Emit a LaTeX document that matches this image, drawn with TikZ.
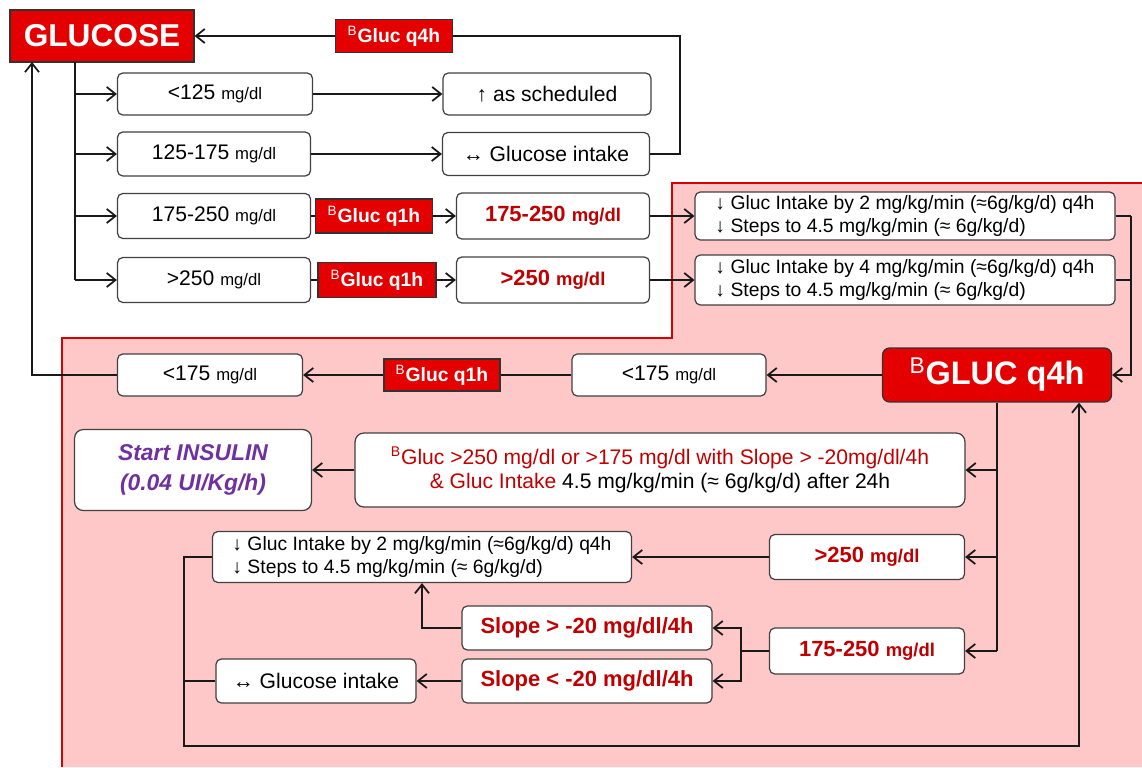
\documentclass[tikz,border=0pt]{standalone}
\usepackage{fontspec}
\setmainfont{Liberation Sans}
\usetikzlibrary{positioning}
\usetikzlibrary{calc}
\usetikzlibrary{arrows.meta}
\definecolor{glured}{RGB}{228,0,0}
\definecolor{txtred}{RGB}{192,0,0}
\definecolor{zonepink}{RGB}{255,200,200}
\definecolor{zonered}{RGB}{214,0,0}
\definecolor{insulinpurple}{RGB}{112,48,160}
\newcommand{\bsup}{\textsuperscript{\mdseries B}}
\newcommand{\mgdl}{{\fontsize{9.5}{11}\selectfont mg/dl}}
\newcommand{\boldmgdl}{{\fontsize{10.5}{12}\selectfont mg/dl}}

\tikzset{
    box/.style={draw=black!75, fill=white, rounded corners=3pt, line width=0.7pt, inner sep=0pt, align=center, font=\fontsize{12}{14}\selectfont},
    redbox/.style={draw=black!80, fill=glured, line width=0.7pt, inner sep=0pt, text=white, font=\fontsize{11}{13}\selectfont\bfseries},
    notebox/.style={box, align=left, font=\fontsize{11}{13.5}\selectfont},
    hotbox/.style={box, text=txtred, font=\fontsize{12.5}{14}\selectfont\bfseries},
    wire/.style={line width=1pt, draw=black!90},
    link/.style={wire, -{Straight Barb[length=5pt,width=8pt]}},
}

\begin{document}
\begin{tikzpicture}[x=0.02cm, y=-0.02cm]
    \useasboundingbox (0,0) rectangle (1142,767);

    % pink zone
    \fill[zonepink] (62,338) -- (672,338) -- (672,183) -- (1142,183) -- (1142,767) -- (62,767) -- cycle;
    \draw[zonered, line width=1.6pt] (62,767) -- (62,338) -- (672,338) -- (672,183) -- (1142,183);

    % upper part
    \node[redbox, minimum width=3.68cm, minimum height=1.04cm, font=\fontsize{18}{20}\selectfont\bfseries] (glucose) at (102,36) {GLUCOSE};
    \node[redbox, minimum width=2.34cm, minimum height=0.66cm] (q4top) at (394,36) {\bsup Gluc q4h};

    \node[box, minimum width=3.9cm, minimum height=0.84cm] (lo125) at (215,94) {<125 \mgdl};
    \node[box, minimum width=3.86cm, minimum height=0.88cm] (r125) at (214,154) {125-175 \mgdl};
    \node[box, minimum width=3.86cm, minimum height=0.9cm] (r175) at (214,216) {175-250 \mgdl};
    \node[box, minimum width=3.86cm, minimum height=0.9cm] (hi250) at (214,280) {>250 \mgdl};

    \node[box, minimum width=4.16cm, minimum height=0.84cm] (sched) at (547,94) {↑ as scheduled};
    \node[box, minimum width=4.14cm, minimum height=0.86cm] (keep) at (546,154) {↔ Glucose intake};

    \node[redbox, minimum width=2.34cm, minimum height=0.68cm] (q1a) at (374,216) {\bsup Gluc q1h};
    \node[redbox, minimum width=2.36cm, minimum height=0.7cm] (q1b) at (377,280) {\bsup Gluc q1h};

    \node[hotbox, minimum width=3.86cm, minimum height=0.92cm] (m175) at (553,216) {175-250 \boldmgdl};
    \node[hotbox, minimum width=3.86cm, minimum height=0.92cm] (m250) at (553,280) {>250 \boldmgdl};

    \node[notebox, minimum width=8.4cm, minimum height=0.96cm] (dec2) at (905,216) {↓ Gluc Intake by 2 mg/kg/min (≈6g/kg/d) q4h\\↓ Steps to 4.5 mg/kg/min (≈ 6g/kg/d)};
    \node[notebox, minimum width=8.4cm, minimum height=1.0cm] (dec4) at (905,280) {↓ Gluc Intake by 4 mg/kg/min (≈6g/kg/d) q4h\\↓ Steps to 4.5 mg/kg/min (≈ 6g/kg/d)};

    % lower part
    \node[redbox, rounded corners=4pt, minimum width=4.58cm, minimum height=1.08cm, font=\fontsize{18.5}{21}\selectfont\bfseries] (gluc4) at (997,375) {\bsup GLUC q4h};
    \node[box, minimum width=3.88cm, minimum height=0.84cm] (lo175b) at (669,375) {<175 \mgdl};
    \node[redbox, minimum width=2.32cm, minimum height=0.64cm] (q1c) at (442,375) {\bsup Gluc q1h};
    \node[box, minimum width=3.7cm, minimum height=0.84cm] (lo175a) at (210,375) {<175 \mgdl};

    \node[box, rounded corners=5pt, minimum width=4.74cm, minimum height=1.62cm, text=insulinpurple, font=\fontsize{13}{17}\selectfont\bfseries\itshape] (insulin) at (193,470) {Start INSULIN\\(0.04 UI/Kg/h)};
    \node[box, rounded corners=5pt, minimum width=12.2cm, minimum height=1.48cm, font=\fontsize{12}{14}\selectfont] (cond) at (660,470) {{\color{txtred}\bsup Gluc >250 mg/dl or >175 mg/dl with Slope > -20mg/dl/4h}\\{\color{txtred}\& Gluc Intake} 4.5 mg/kg/min (≈ 6g/kg/d) after 24h};

    \node[notebox, minimum width=8.38cm, minimum height=1.02cm] (dec2b) at (422,557) {↓ Gluc Intake by 2 mg/kg/min (≈6g/kg/d) q4h\\↓ Steps to 4.5 mg/kg/min (≈ 6g/kg/d)};
    \node[hotbox, minimum width=3.9cm, minimum height=0.9cm] (hi250b) at (867,557) {>250 \boldmgdl};
    \node[hotbox, minimum width=3.9cm, minimum height=0.92cm] (m175b) at (867,651) {175-250 \boldmgdl};
    \node[hotbox, minimum width=5.0cm, minimum height=0.88cm] (slopeup) at (587,628) {Slope > -20 mg/dl/4h};
    \node[hotbox, minimum width=5.0cm, minimum height=0.88cm] (slopedn) at (587,681) {Slope < -20 mg/dl/4h};
    \node[box, minimum width=4.0cm, minimum height=0.88cm] (keepb) at (316,681) {↔ Glucose intake};

    % bends
    \coordinate (topbend) at (680,36);
    \coordinate (trunktop) at (75,62);
    \coordinate (trunkbot) at (75,280);
    \coordinate (backup) at (32,62);
    \coordinate (rbend) at (1131,216);
    \coordinate (split) at (741,651);
    \coordinate (loopl) at (184,746);
    \coordinate (loopr) at (1079,746);

    % connectors, upper part
    \draw[link] (q4top) -- (glucose);
    \draw[wire] (keep.east) -| (topbend) -- (q4top.east);
    \draw[wire] (trunktop) -- (trunkbot);
    \foreach \n in {lo125,r125,r175,hi250}
        \draw[link] (trunktop |- \n.west) -- (\n.west);
    \draw[link] (lo125) -- (sched);
    \draw[link] (r125) -- (keep);
    \draw[wire] (r175) -- (q1a);
    \draw[link] (q1a) -- (m175);
    \draw[wire] (hi250) -- (q1b);
    \draw[link] (q1b) -- (m250);
    \draw[link] (m175) -- (dec2);
    \draw[link] (m250) -- (dec4);
    \draw[wire] (dec2.east) -- (rbend);
    \draw[wire] (dec4.east) -- (dec4.east -| rbend);
    \draw[link] (rbend) |- (gluc4.east);

    % connectors, lower part
    \draw[link] (gluc4) -- (lo175b);
    \draw[wire] (lo175b) -- (q1c);
    \draw[link] (q1c) -- (lo175a);
    \draw[link] (lo175a.west) -| (backup);
    \draw[wire] (gluc4.south) -- (gluc4.south |- m175b.east);
    \foreach \n in {cond,hi250b,m175b}
        \draw[link] (gluc4.south |- \n.east) -- (\n.east);
    \draw[link] (cond) -- (insulin);
    \draw[link] (hi250b) -- (dec2b);
    \draw[wire] (m175b.west) -- (split);
    \draw[link] (split) |- (slopeup.east);
    \draw[link] (split) |- (slopedn.east);
    \draw[link] (slopeup.west) -| (dec2b.south);
    \draw[link] (slopedn) -- (keepb);
    \draw[wire] (keepb.west) -- (keepb.west -| loopl);
    \draw[link] (dec2b.west) -| (loopl) -- (loopr) -- (loopr |- gluc4.south);
\end{tikzpicture}
\end{document}
